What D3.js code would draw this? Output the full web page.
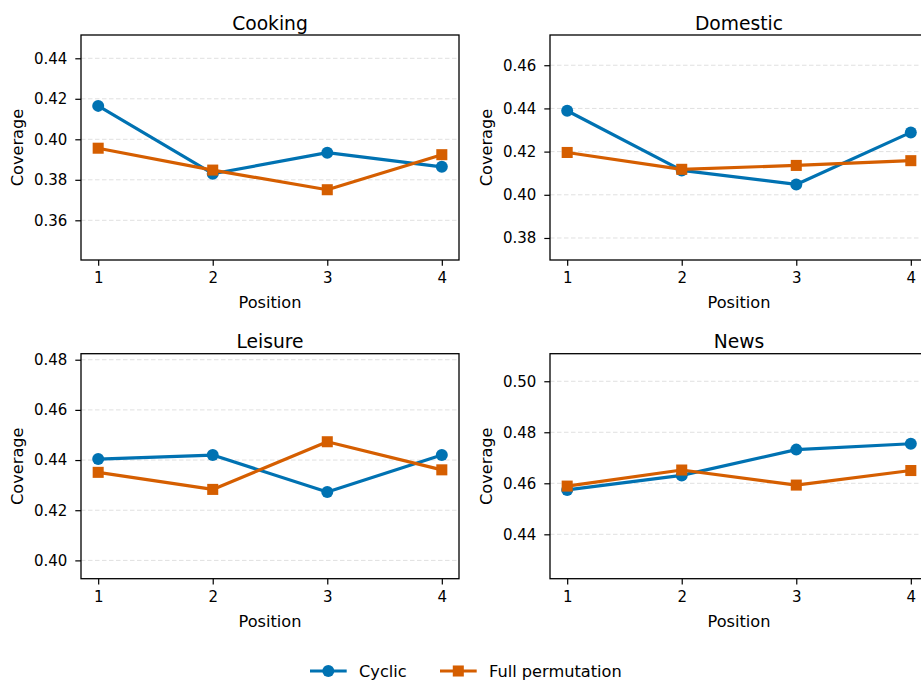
<!DOCTYPE html>
<html>
<head>
<meta charset="utf-8">
<script src="https://cdn.jsdelivr.net/npm/d3@7"></script>
<style>
  html, body { margin: 0; padding: 0; background: #fff; overflow: hidden; }
  svg { display: block; }
  svg text { font-family: "DejaVu Sans", sans-serif; fill: #000; }
</style>
</head>
<body>
<div id="chart"></div>
<script>
// data
const positions = [1, 2, 3, 4];
const categories = ["Cooking", "Domestic", "Leisure", "News"];
const seriesNames = ["Cyclic", "Full permutation"];

const cyclic = {
  Cooking:  [0.4165, 0.3830, 0.3934, 0.3864],
  Domestic: [0.4389, 0.4113, 0.4048, 0.4289],
  Leisure:  [0.4404, 0.4420, 0.4273, 0.4420],
  News:     [0.4574, 0.4631, 0.4732, 0.4755]
};
const fullPerm = {
  Cooking:  [0.3956, 0.3848, 0.3751, 0.3924],
  Domestic: [0.4196, 0.4118, 0.4136, 0.4158],
  Leisure:  [0.4351, 0.4283, 0.4473, 0.4361],
  News:     [0.4589, 0.4652, 0.4593, 0.4650]
};
const yLimits = {
  Cooking:  [0.3404, 0.4515],
  Domestic: [0.3698, 0.4740],
  Leisure:  [0.3927, 0.4824],
  News:     [0.4226, 0.5108]
};
const yTicks = {
  Cooking:  [0.36, 0.38, 0.40, 0.42, 0.44],
  Domestic: [0.38, 0.40, 0.42, 0.44, 0.46],
  Leisure:  [0.40, 0.42, 0.44, 0.46, 0.48],
  News:     [0.44, 0.46, 0.48, 0.50]
};

const colors = ["#0072B2", "#D55E00"];
const W = 921, H = 684;
const lineW = 3.2, markerSize = 12;

// panel frames (px)
const cols = [{left: 81, right: 459}, {left: 550, right: 928}];
const rows = [{top: 35, bottom: 260}, {top: 353.7, bottom: 578.7}];

const svg = d3.select("#chart").append("svg")
  .attr("width", W)
  .attr("height", H);

function drawMarker(sel, i, size) {
  if (i === 0) {
    sel.append("circle").attr("r", size / 2).attr("fill", colors[0]);
  } else {
    const s = size * 0.92;
    sel.append("rect")
      .attr("x", -s / 2).attr("y", -s / 2)
      .attr("width", s).attr("height", s)
      .attr("fill", colors[1]);
  }
}

categories.forEach((cat, k) => {
  const c = cols[k % 2], r = rows[Math.floor(k / 2)];
  const w = c.right - c.left, h = r.bottom - r.top;

  const x = d3.scaleLinear().domain([0.85, 4.15]).range([0, w]);
  const y = d3.scaleLinear().domain(yLimits[cat]).range([h, 0]);

  const g = svg.append("g").attr("transform", `translate(${c.left},${r.top})`);

  // grid
  g.append("g")
    .selectAll("line")
    .data(yTicks[cat])
    .join("line")
    .attr("x1", 0).attr("x2", w)
    .attr("y1", d => y(d)).attr("y2", d => y(d))
    .attr("stroke", "#e0e0e0")
    .attr("stroke-width", 1)
    .attr("stroke-dasharray", "4.5,2.5");

  // axes
  const xAxis = g.append("g")
    .attr("transform", `translate(0,${h})`)
    .call(d3.axisBottom(x).tickValues(positions).tickFormat(d3.format("d")).tickSize(5.7).tickPadding(7));
  const yAxis = g.append("g")
    .call(d3.axisLeft(y).tickValues(yTicks[cat]).tickFormat(d3.format(".2f")).tickSize(5.7).tickPadding(8));
  [xAxis, yAxis].forEach(a => {
    a.attr("font-family", null).attr("font-size", null);
    a.select(".domain").remove();
    a.selectAll("line").attr("stroke", "#000").attr("stroke-width", 1.2);
    a.selectAll("text").style("font-size", "15px");
  });

  // frame
  g.append("rect")
    .attr("width", w).attr("height", h)
    .attr("fill", "none")
    .attr("stroke", "#000")
    .attr("stroke-width", 1.3);

  // series
  [cyclic[cat], fullPerm[cat]].forEach((vals, i) => {
    const pts = positions.map((p, j) => [p, vals[j]]);
    g.append("path")
      .datum(pts)
      .attr("fill", "none")
      .attr("stroke", colors[i])
      .attr("stroke-width", lineW)
      .attr("stroke-linejoin", "round")
      .attr("d", d3.line().x(d => x(d[0])).y(d => y(d[1])));
    pts.forEach(d => {
      const m = g.append("g").attr("transform", `translate(${x(d[0])},${y(d[1])})`);
      drawMarker(m, i, markerSize);
    });
  });

  // labels
  g.append("text")
    .attr("x", w / 2).attr("y", -5.5)
    .attr("text-anchor", "middle")
    .style("font-size", "18.7px")
    .text(cat);
  g.append("text")
    .attr("x", (cols[0].right - cols[0].left) / 2).attr("y", h + 48)
    .attr("text-anchor", "middle")
    .style("font-size", "16.2px")
    .text("Position");
  g.append("text")
    .attr("transform", `translate(${-58},${h / 2}) rotate(-90)`)
    .attr("text-anchor", "middle")
    .style("font-size", "16.2px")
    .text("Coverage");
});

// legend
const legend = svg.append("g").attr("transform", "translate(0,671)");
const legendX = [310, 440];
seriesNames.forEach((name, i) => {
  const lg = legend.append("g").attr("transform", `translate(${legendX[i]},0)`);
  lg.append("line")
    .attr("x1", 0).attr("x2", 36.7)
    .attr("stroke", colors[i]).attr("stroke-width", lineW);
  drawMarker(lg.append("g").attr("transform", "translate(18.3,0)"), i, markerSize);
  lg.append("text")
    .attr("x", 49).attr("y", 6)
    .style("font-size", "16.2px")
    .text(name);
});
</script>
</body>
</html>
